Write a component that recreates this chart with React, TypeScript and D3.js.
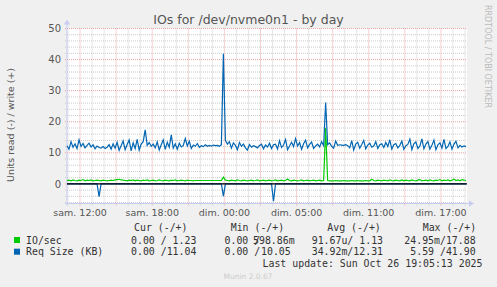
import React from "react";
import * as d3 from "d3";

// ---- data (10-minute samples, starting 2025-10-25 08:55 UTC) ----
const sampleStartUtc = "2025-10-25T08:55:00Z";
const sampleStepMinutes = 10;

const reqSizeWrite = [
  12.3, 11.2, 13.6, 11.8, 12.9, 11.4, 14.2, 12.1, 13.0, 11.6, 12.4, 13.1, 11.9, 12.6, 11.3, 12.2, 11.7, 11.5, 12.0, 11.4,
  11.8, 12.6, 11.2, 12.9, 11.5, 13.4, 10.8, 12.3, 13.8, 11.0, 12.7, 14.1, 10.6, 13.2, 11.4, 14.3, 10.9, 12.8, 13.6, 17.4,
  12.4, 13.3, 12.1, 12.8, 11.6, 13.5, 10.9, 12.6, 14.2, 11.1, 13.4, 11.8, 15.8, 11.5, 12.9, 11.2, 13.1, 11.9, 12.4, 14.6,
  12.2, 13.7, 11.4, 12.5, 12.1, 13.0, 11.8, 12.3, 12.0, 12.6, 12.1, 12.4, 12.2, 12.5, 12.3, 12.4, 12.1, 12.6, 41.9, 14.0,
  12.8, 13.6, 11.5, 13.2, 12.4, 11.0, 13.3, 12.1, 12.8, 11.6, 10.9, 12.7, 11.8, 12.3, 12.0, 11.6, 12.4, 12.8, 11.3, 12.5,
  11.9, 13.1, 11.4, 12.6, 12.8, 11.2, 13.9, 11.7, 12.5, 14.3, 11.0, 12.2, 13.4, 12.0, 14.6, 12.2, 13.3, 11.1, 12.9, 14.1,
  11.6, 12.7, 13.5, 11.4, 12.2, 12.8, 11.9, 13.6, 12.3, 26.2, 12.6, 13.2, 12.1, 11.5, 13.8, 12.4, 12.6, 12.5, 12.4, 12.6,
  12.3, 11.6, 13.9, 10.9, 12.8, 13.4, 11.5, 12.7, 14.0, 11.3, 12.5, 13.1, 11.8, 12.2, 13.6, 11.4, 12.6, 12.9, 11.7, 13.3,
  12.0, 14.2, 11.2, 12.6, 13.0, 11.6, 12.4, 13.8, 11.1, 12.3, 12.7, 14.4, 11.0, 12.9, 13.5, 11.4, 12.2, 14.5, 11.3, 12.8,
  13.6, 11.2, 12.4, 14.1, 11.0, 12.6, 13.2, 11.5, 14.3, 11.4, 12.1, 13.5, 11.2, 12.8, 13.7, 11.6, 12.4, 11.9, 12.2, 12.0,
];

const reqSizeRead = [
  0, 0, 0, 0, 0, 0, 0, 0, 0, 0, 0, 0, 0, 0, 0, 0, 4.1, 0, 0, 0,
  0, 0, 0, 0, 0, 0, 0, 0, 0, 0, 0, 0, 0, 0, 0, 0, 0, 0, 0, 0,
  0, 0, 0, 0, 0, 0, 0, 0, 0, 0, 0, 0, 0, 0, 0, 0, 0, 0, 0, 0,
  0, 0, 0, 0, 0, 0, 0, 0, 0, 0, 0, 0, 0, 0, 0, 0, 0, 0, 3.9, 0,
  0, 0, 0, 0, 0, 0, 0, 0, 0, 0, 0, 0, 0, 0, 0, 0, 0, 0, 0, 0,
  0, 0, 0, 5.59, 0, 0, 0, 0, 0, 0, 0, 0, 0, 0, 0, 0, 0, 0, 0, 0,
  0, 0, 0, 0, 0, 0, 0, 0, 0, 0, 0, 0, 0, 0, 0, 0, 0, 0, 0, 0,
  0, 0, 0, 0, 0, 0, 0, 0, 0, 0, 0, 0, 0, 0, 0, 0, 0, 0, 0, 0,
  0, 0, 0, 0, 0, 0, 0, 0, 0, 0, 0, 0, 0, 0, 0, 0, 0, 0, 0, 0,
  0, 0, 0, 0, 0, 0, 0, 0, 0, 0, 0, 0, 0, 0, 0, 0, 0, 0, 0, 0,
];

const ioWrite = [
  1.1, 1.2, 1.0, 1.3, 1.1, 1.0, 1.2, 1.1, 1.4, 1.0, 1.2, 1.1, 1.3, 1.0, 1.1, 1.2, 1.1, 1.0, 1.2, 1.1,
  1.0, 1.1, 1.2, 1.1, 1.3, 1.4, 1.5, 1.3, 1.2, 1.1, 1.0, 1.2, 1.1, 1.3, 1.0, 1.2, 1.1, 1.0, 1.2, 1.1,
  1.3, 1.0, 1.1, 1.2, 1.0, 1.1, 1.3, 1.1, 1.0, 1.2, 1.1, 1.0, 1.2, 1.1, 1.3, 1.0, 1.1, 1.2, 1.1, 1.0,
  1.2, 1.1, 1.1, 1.0, 1.1, 1.1, 1.1, 1.1, 1.1, 1.1, 1.1, 1.1, 1.1, 1.1, 1.1, 1.1, 1.1, 1.1, 2.2, 1.2,
  1.1, 1.0, 1.2, 1.1, 1.0, 1.3, 1.1, 1.0, 1.2, 1.1, 1.0, 1.1, 1.2, 1.0, 1.1, 1.3, 1.0, 1.1, 1.2, 1.0,
  1.1, 1.2, 1.0, 1.1, 1.3, 1.0, 1.1, 1.2, 1.0, 1.1, 1.6, 1.1, 1.0, 1.2, 1.1, 1.0, 1.1, 1.3, 1.0, 1.1,
  1.2, 1.0, 1.1, 1.2, 1.0, 1.1, 1.2, 1.0, 1.1, 17.88, 1.1, 1.0, 1.0, 1.0, 1.1, 1.0, 1.0, 1.0, 1.1, 1.0,
  1.0, 1.0, 1.1, 1.0, 1.0, 1.1, 1.0, 1.0, 1.0, 1.1, 1.0, 1.0, 1.5, 1.1, 1.0, 1.2, 1.1, 1.0, 1.2, 1.1,
  1.0, 1.3, 1.1, 1.0, 1.2, 1.1, 1.0, 1.3, 1.0, 1.2, 1.1, 1.0, 1.3, 1.1, 1.0, 1.2, 1.4, 1.0, 1.1, 1.2,
  1.0, 1.3, 1.1, 1.0, 1.2, 1.1, 1.4, 1.0, 1.2, 1.1, 1.3, 1.0, 1.2, 1.5, 1.1, 1.3, 1.0, 1.4, 1.2, 1.1,
];

const seriesNames = ["IO/sec", "Req Size (KB)"];
const seriesColors = ["#00CC00", "#0066B3"];
const legendHeaders = ["Cur (-/+)", "Min (-/+)", "Avg (-/+)", "Max (-/+)"];
const legendCur = ["0.00 / 1.23", "0.00 /11.04"];
const legendMinRead = ["0.00 /", "0.00 /"];
const legendMinWrite = ["598.86m", "10.05"];
const legendAvg = ["91.67u/ 1.13", "34.92m/12.31"];
const legendMax = ["24.95m/17.88", " 5.59 /41.90"];

const yTicks = [0, 10, 20, 30, 40, 50];
const xTickLabels = ["sam. 12:00", "sam. 18:00", "dim. 00:00", "dim. 05:00", "dim. 11:00", "dim. 17:00"];
const xTickTimes = [
  "2025-10-25T10:00:00Z",
  "2025-10-25T16:00:00Z",
  "2025-10-25T22:00:00Z",
  "2025-10-26T04:00:00Z",
  "2025-10-26T10:00:00Z",
  "2025-10-26T16:00:00Z",
];
const xDomain = ["2025-10-25T08:55:00Z", "2025-10-26T18:10:00Z"];
const yDomain = [-6.3, 50];

const titleText = "IOs for /dev/nvme0n1 - by day";
const yAxisLabel = "Units read (-) / write (+)";
const lastUpdate = "Last update: Sun Oct 26 19:05:13 2025";
const sideText = "RRDTOOL / TOBI OETIKER";
const footer = "Munin 2.0.67";

export default function App() {
  const W = 497;
  const H = 287;
  const L = 67, R = 467, T = 28.5, B = 203.5;
  const x = d3.scaleUtc().domain(xDomain.map((s) => new Date(s))).range([L, R]);
  const y = d3.scaleLinear().domain(yDomain).range([B, T]);

  const t0 = new Date(sampleStartUtc).getTime();
  const tAt = (i: number) => new Date(t0 + i * sampleStepMinutes * 60000);

  const line = d3
    .line<number>()
    .x((_, i) => x(tAt(i)))
    .y((v) => y(v));

  const hours = d3.utcHour.range(x.domain()[0], x.domain()[1]);
  const majorHours = hours.filter((h) => ((h.getUTCHours() - 10 + 24) % 3) === 0);
  const minorHours = hours.filter((h) => ((h.getUTCHours() - 10 + 24) % 3) !== 0);
  const yMinor = d3.range(-6, 51, 2).filter((v) => v % 10 !== 0);

  const mono = "'DejaVu Sans Mono', monospace";
  const sans = "'DejaVu Sans', sans-serif";
  const axisColor = "#C8CCF0";
  const rowY = [243.5, 255.2];

  return (
    <svg
      width={W}
      height={H}
      style={{ position: "absolute", left: 0, top: 0, background: "#F0F0F0" }}
    >
      <rect x={0} y={0} width={W} height={H} fill="#F0F0F0" />
      <rect x={L} y={T} width={R - L} height={B - T} fill="#FFFFFF" />

      {/* minor grid */}
      {minorHours.map((h, i) => (
        <line key={"mx" + i} x1={x(h)} x2={x(h)} y1={T} y2={B + 2}
          stroke="#CCCCCC" strokeWidth={1} strokeDasharray="1,1" />
      ))}
      {yMinor.map((v, i) => (
        <line key={"my" + i} x1={L - 2} x2={R} y1={y(v)} y2={y(v)}
          stroke="#CCCCCC" strokeWidth={1} strokeDasharray="1,1" />
      ))}
      {/* major grid */}
      {majorHours.map((h, i) => (
        <line key={"Mx" + i} x1={x(h)} x2={x(h)} y1={T} y2={B + 2}
          stroke="#EBA3A3" strokeWidth={1} strokeDasharray="1,1" />
      ))}
      {yTicks.map((v, i) => (
        <line key={"My" + i} x1={L - 2} x2={R} y1={y(v)} y2={y(v)}
          stroke="#EBA3A3" strokeWidth={1} strokeDasharray="1,1" />
      ))}

      {/* axes */}
      <line x1={L} x2={L} y1={B + 2} y2={T - 5} stroke={axisColor} strokeWidth={1} />
      <path d={`M${L - 3},${T - 4} L${L + 3},${T - 4} L${L},${T - 9} Z`} fill={axisColor} />
      <line x1={L - 2} x2={R + 3} y1={B} y2={B} stroke={axisColor} strokeWidth={1} />
      <path d={`M${R + 2},${B - 3} L${R + 2},${B + 3} L${R + 7},${B} Z`} fill={axisColor} />

      {/* data */}
      <path d={line(ioWrite) || ""} fill="none" stroke={seriesColors[0]} strokeWidth={1.2} />
      <path d={line(reqSizeRead.map((v) => -v)) || ""} fill="none" stroke={seriesColors[1]} strokeWidth={1.2} />
      <path d={line(reqSizeWrite) || ""} fill="none" stroke={seriesColors[1]} strokeWidth={1.2} />
      <line x1={L} x2={R} y1={y(0)} y2={y(0)} stroke="#000000" strokeWidth={1.1} />

      {/* y tick labels */}
      {yTicks.map((v) => (
        <text key={"yt" + v} x={61} y={y(v) + 3.6} textAnchor="end" fontFamily={sans}
          fontSize={10} fill="#555555">{v}</text>
      ))}
      {/* x tick labels */}
      {xTickLabels.map((lab, i) => (
        <text key={"xt" + i} x={x(new Date(xTickTimes[i]))} y={216.3} textAnchor="middle"
          fontFamily={sans} fontSize={9.5} fill="#555555">{lab}</text>
      ))}

      {/* title */}
      <text x={W / 2} y={23.5} textAnchor="middle" fontFamily={sans} fontSize={12.5} fill="#555555">
        {titleText}
      </text>
      {/* y label */}
      <text transform={`translate(14.3,125) rotate(-90)`} textAnchor="middle" fontFamily={sans}
        fontSize={9.5} fill="#555555">{yAxisLabel}</text>
      {/* side text */}
      <text transform={`translate(485,5) rotate(90)`} textAnchor="start" fontFamily={sans}
        fontSize={8} fill="#BBBBBB">{sideText}</text>

      {/* legend */}
      <g fontFamily={mono} fontSize={9.9} fill="#333333">
        <text x={134} y={230.5} xmlSpace="preserve">{legendHeaders[0]}</text>
        <text x={230.7} y={230.5} xmlSpace="preserve">{legendHeaders[1]}</text>
        <text x={327.3} y={230.5} xmlSpace="preserve">{legendHeaders[2]}</text>
        <text x={422.7} y={230.5} xmlSpace="preserve">{legendHeaders[3]}</text>
        {seriesNames.map((n, i) => (
          <g key={"lg" + i}>
            <rect x={14} y={rowY[i] - 6.5} width={6} height={6} fill={seriesColors[i]} />
            <text x={26} y={rowY[i]} xmlSpace="preserve">{n}</text>
            <text x={131} y={rowY[i]} xmlSpace="preserve">{legendCur[i]}</text>
            <text x={224.5} y={rowY[i]} xmlSpace="preserve">{legendMinRead[i]}</text>
            <text x={i === 0 ? 253 : 261} y={rowY[i]} xmlSpace="preserve">{legendMinWrite[i]}</text>
            <text x={311.7} y={rowY[i]} xmlSpace="preserve">{legendAvg[i]}</text>
            <text x={404.3} y={rowY[i]} xmlSpace="preserve">{legendMax[i]}</text>
          </g>
        ))}
        <text x={482.5} y={266.8} textAnchor="end" xmlSpace="preserve">{lastUpdate}</text>
      </g>
      <text x={248} y={279} textAnchor="middle" fontFamily={sans} fontSize={7.5} fill="#CCCCCC">
        {footer}
      </text>
    </svg>
  );
}
